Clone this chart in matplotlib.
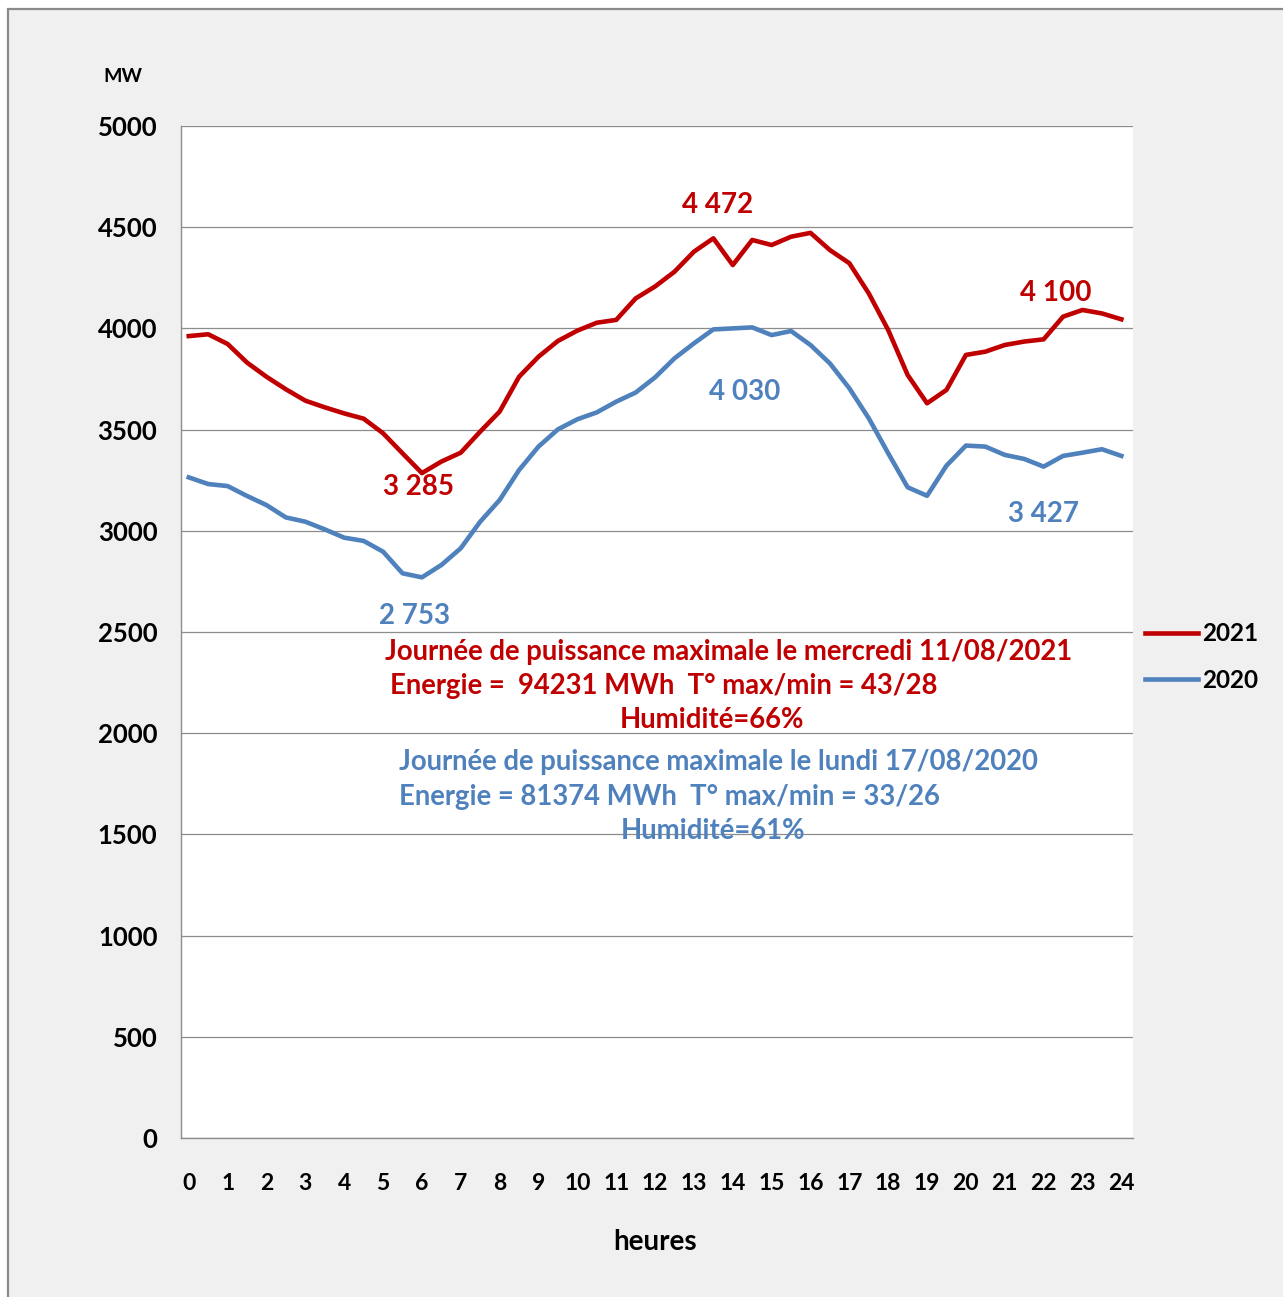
import matplotlib
matplotlib.use("Agg")
import matplotlib.pyplot as plt
from matplotlib.patches import Rectangle
import numpy as np

# ---- data (half-hourly load, MW) ----
hours = [h / 2 for h in range(49)]
load_2021 = [3962, 3971, 3923, 3831, 3761, 3699, 3643, 3610, 3580, 3554,
             3482, 3383, 3285, 3342, 3386, 3490, 3589, 3761, 3860, 3938,
             3989, 4028, 4042, 4148, 4207, 4280, 4379, 4445, 4313, 4437,
             4412, 4453, 4472, 4387, 4322, 4173, 3992, 3770, 3630, 3696,
             3869, 3885, 3918, 3935, 3946, 4058, 4091, 4074, 4045]
load_2020 = [3264, 3231, 3221, 3172, 3127, 3066, 3045, 3007, 2966, 2950,
             2897, 2790, 2770, 2831, 2914, 3045, 3152, 3300, 3416, 3501,
             3551, 3585, 3638, 3683, 3758, 3852, 3926, 3995, 4000, 4005,
             3967, 3987, 3918, 3827, 3704, 3556, 3383, 3215, 3173, 3322,
             3421, 3416, 3375, 3355, 3317, 3370, 3386, 3403, 3370]
series_labels = ["2021", "2020"]
x_ticks = list(range(25))
y_ticks = list(range(0, 5001, 500))

# annotations: (x_hour, y_value, text)
ann_2021 = [(13.6, 4610, "4 472"), (5.9, 3215, "3 285"), (22.3, 4175, "4 100")]
ann_2020 = [(14.3, 3685, "4 030"), (22.0, 3085, "3 427"), (5.8, 2580, "2 753")]

RED = "#c00000"
BLUE = "#4f81bd"
FONT = "Lato"

W, H = 1283, 1297
fig = plt.figure(figsize=(W / 100, H / 100), dpi=100, facecolor="white")

# outer frame
frame = Rectangle((8 / W, -0.01), 1.02, 1 - 9 / H + 0.01,
                  transform=fig.transFigure, facecolor="#f0f0f0",
                  edgecolor="#8a8a8a", linewidth=1.6, zorder=-10)
fig.patches.append(frame)

ax = fig.add_axes([181 / W, 1 - 1138 / H, (1133 - 181) / W, (1138 - 126) / H])
ax.set_zorder(1)
ax.set_facecolor("white")
ax.set_xlim(-0.2, 24.3)
ax.set_ylim(0, 5000)

ax.plot(hours, load_2021, color=RED, lw=3.3, label=series_labels[0],
        solid_joinstyle="round", zorder=3)
ax.plot(hours, load_2020, color=BLUE, lw=3.3, label=series_labels[1],
        solid_joinstyle="round", zorder=3)

ax.set_yticks(y_ticks)
ax.set_xticks(x_ticks)
ax.yaxis.grid(True, color="#8c8c8c", lw=0.9)
ax.set_axisbelow(True)
ax.tick_params(axis="both", length=0)
ax.tick_params(axis="y", pad=17)
ax.tick_params(axis="x", pad=25)
for lab in ax.get_yticklabels():
    lab.set_fontfamily(FONT); lab.set_fontweight("bold"); lab.set_fontsize(18.5)
for lab in ax.get_xticklabels():
    lab.set_fontfamily(FONT); lab.set_fontweight("bold"); lab.set_fontsize(16.5)

for s in ["top", "right"]:
    ax.spines[s].set_visible(False)
for s in ["left", "bottom"]:
    ax.spines[s].set_color("#8c8c8c")
    ax.spines[s].set_linewidth(1.0)

# axis unit labels
fig.text(103 / W, 1 - 76 / H, "MW", fontsize=14, fontweight="bold",
         fontfamily=FONT, ha="left", va="center")
fig.text(655 / W, 1 - 1242 / H, "heures", fontsize=20, fontweight="bold",
         fontfamily=FONT, ha="center", va="center")

# value labels
for x, y, t in ann_2021:
    ax.text(x, y, t, color=RED, fontsize=20, fontweight="bold",
            fontfamily=FONT, ha="center", va="center")
for x, y, t in ann_2020:
    ax.text(x, y, t, color=BLUE, fontsize=20, fontweight="bold",
            fontfamily=FONT, ha="center", va="center")

# info text blocks
def ftxt(px, py, s, c, ha="left"):
    fig.text(px / W, 1 - py / H, s, color=c, fontsize=19.8, fontweight="bold",
             fontfamily=FONT, ha=ha, va="center", zorder=5)

ftxt(385, 652, "Journée de puissance maximale le mercredi 11/08/2021", RED)
ftxt(390, 686, "Energie =  94231 MWh  T° max/min = 43/28", RED)
ftxt(712, 720, "Humidité=66%", RED, ha="center")
ftxt(399, 762, "Journée de puissance maximale le lundi 17/08/2020", BLUE)
ftxt(399, 797, "Energie = 81374 MWh  T° max/min = 33/26", BLUE)
ftxt(713, 831, "Humidité=61%", BLUE, ha="center")

leg = ax.legend(loc="center left", bbox_to_anchor=(1145 / W, 1 - 657 / H),
                bbox_transform=fig.transFigure, frameon=False,
                prop={"family": FONT, "weight": "bold", "size": 17.5},
                handlelength=2.2, handletextpad=0.15, labelspacing=0.95,
                borderpad=0, borderaxespad=0)

fig.savefig("out.png", dpi=100, facecolor=fig.get_facecolor())
